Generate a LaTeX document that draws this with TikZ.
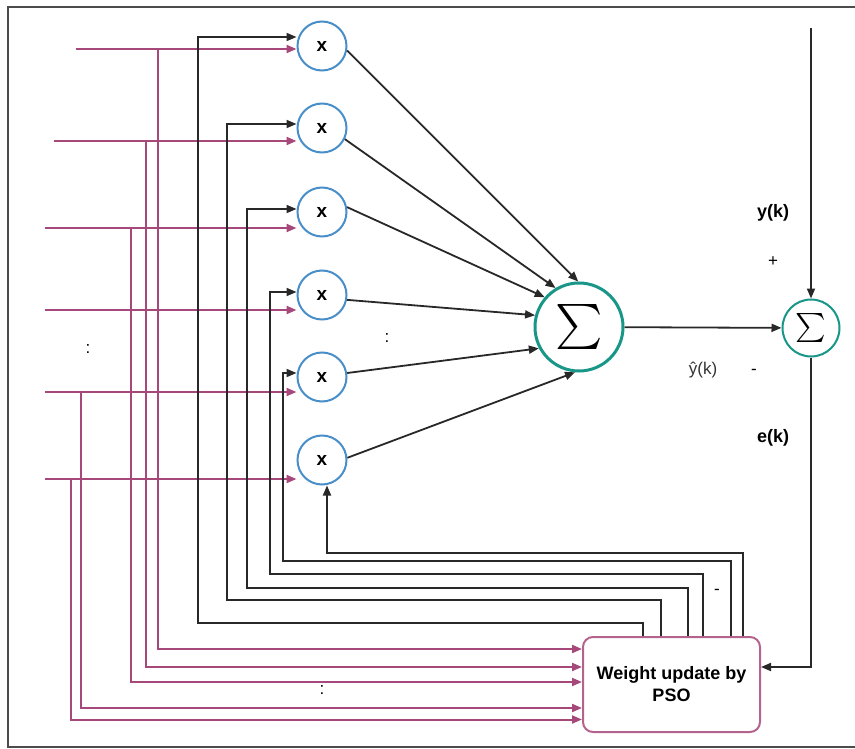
\documentclass[tikz,border=0pt]{standalone}
\usepackage{fontspec}
\setmainfont{Liberation Sans}
\usetikzlibrary{arrows.meta}
\definecolor{inpcol}{RGB}{166,72,122}
\definecolor{multcol}{RGB}{72,142,200}
\definecolor{sumcol}{RGB}{24,150,136}
\definecolor{wirecol}{RGB}{40,40,40}
\tikzset{
  mult/.style={circle,draw=multcol,line width=2pt,minimum size=49pt,inner sep=0pt,
    font=\bfseries\fontsize{19}{22}\selectfont},
  bigsum/.style={circle,draw=sumcol,line width=3pt,minimum size=88pt,inner sep=0pt},
  smallsum/.style={circle,draw=sumcol,line width=2pt,minimum size=57pt,inner sep=0pt},
  psobox/.style={draw=inpcol!85,rounded corners=10pt,line width=2pt,minimum width=177pt,
    minimum height=95pt,align=center,font=\bfseries\fontsize{18}{22}\selectfont},
  inp/.style={draw=inpcol,line width=2pt,-{Triangle[length=10pt,width=8pt]}},
  wire/.style={draw=wirecol,line width=1.8pt,-{Triangle[length=10pt,width=8pt]}},
  lab/.style={font=\fontsize{17}{20}\selectfont},
  blab/.style={font=\bfseries\fontsize{18}{21}\selectfont}
}
\begin{document}
\begin{tikzpicture}[x=1pt,y=-1pt]
\useasboundingbox (0,0) rectangle (855,749);
\draw[line width=2pt,black!70] (855,7) -- (8,7) -- (8,747) -- (855,747);
\node[mult] (m1) at (322,46) {x};
\node[mult] (m2) at (322,128) {x};
\node[mult] (m3) at (322,212) {x};
\node[mult] (m4) at (322,295) {x};
\node[mult] (m5) at (322,377) {x};
\node[mult] (m6) at (322,460) {x};
\node[bigsum] (s1) at (579,327) {\scalebox{4.5}{$\sum$}};
\node[smallsum] (s2) at (811,328) {\scalebox{2.9}{$\sum$}};
\node[psobox] (pso) at (671.5,684.5) {Weight update by\\PSO};
\coordinate (i1) at (76,49);
\coordinate (i2) at (54,141);
\coordinate (i3) at (45,228);
\coordinate (i4) at (45,310);
\coordinate (i5) at (45,392);
\coordinate (i6) at (45,479);
\coordinate (j1) at (158,49);
\coordinate (j2) at (146,141);
\coordinate (j3) at (131,228);
\coordinate (j5) at (81,392);
\coordinate (j6) at (71,479);
\coordinate (yin) at (811,28);
\draw[inp] (i1) -- ([yshift=-3pt]m1.west);
\draw[inp] (i2) -- ([yshift=-13pt]m2.west);
\draw[inp] (i3) -- ([yshift=-16pt]m3.west);
\draw[inp] (i4) -- ([yshift=-15pt]m4.west);
\draw[inp] (i5) -- ([yshift=-15pt]m5.west);
\draw[inp] (i6) -- ([yshift=-19pt]m6.west);
\draw[inp] (j1) |- ([yshift=35.5pt]pso.west);
\draw[inp] (j2) |- ([yshift=17.5pt]pso.west);
\draw[inp] (j3) |- ([yshift=2.5pt]pso.west);
\draw[inp] (j5) |- ([yshift=-23.5pt]pso.west);
\draw[inp] (j6) |- ([yshift=-35pt]pso.west);
\draw[wire] (pso.north -| 643,0) |- (198,623) |- ([yshift=9pt]m1.west);
\draw[wire] (pso.north -| 661,0) |- (227,600) |- ([yshift=4pt]m2.west);
\draw[wire] (pso.north -| 688,0) |- (247,588) |- ([yshift=3pt]m3.west);
\draw[wire] (pso.north -| 703,0) |- (270,574) |- ([yshift=3pt]m4.west);
\draw[wire] (pso.north -| 731,0) |- (283,561) |- ([yshift=4pt]m5.west);
\draw[wire] (pso.north -| 743,0) |- (327,553) -- ([xshift=5pt]m6.south);
\draw[wire] (m1.-10) -- (s1.91);
\draw[wire] (m2.-26) -- (s1.121);
\draw[wire] (m3.11) -- (s1.139);
\draw[wire] (m4.-11) -- (s1.165);
\draw[wire] (m5.9) -- (s1.208);
\draw[wire] (m6.5) -- (s1.265);
\draw[wire] (s1) -- (s2);
\draw[wire] (yin) -- (s2);
\draw[wire] (s2) |- ([yshift=17.5pt]pso.east);
\node[blab] (ylab) at (773,213) {y(k)};
\node[lab] (plus) at (773,262) {+};
\node[lab,black!80] (yhat) at (703,370) {ŷ(k)};
\node[lab] (minus) at (754,372) {-};
\node[blab] (elab) at (773,438) {e(k)};
\node[lab] (d1) at (88,349) {:};
\node[lab] (d2) at (387,338) {:};
\node[lab] (d3) at (322,690) {:};
\node[lab] (d4) at (717,592) {-};
\end{tikzpicture}
\end{document}
